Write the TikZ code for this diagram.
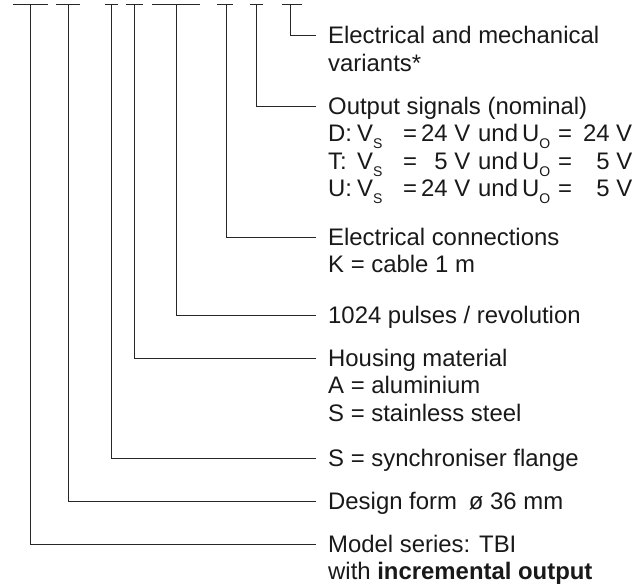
\documentclass[tikz,border=0pt]{standalone}
\usepackage{fontspec}
\setmainfont{Liberation Sans}
\newcommand\mysub[1]{\raisebox{-7pt}{\fontsize{14}{14}\selectfont #1}}
\newcommand\sigline[3]{\makebox[29pt][l]{#1}\makebox[46pt][l]{V\mysub{S}}\makebox[67pt]{=\hfill #2 V}\hspace{8pt}\makebox[44pt][l]{und}\makebox[36pt][l]{U\mysub{O}}\makebox[74pt]{=\hfill #3 V}}
\begin{document}
\begin{tikzpicture}[x=1pt,y=-1pt,
  ln/.style={draw=black!85,line width=0.9pt},
  lbl/.style={anchor=base west,inner sep=0pt,text=black!90,
    font=\fontsize{23.9}{27.5}\selectfont}]
\useasboundingbox (0,0) rectangle (637,585);
% top bars
\foreach \i/\l/\c/\r in {1/13/30.7/48, 2/56/68.7/80, 3/105/111.7/118, 4/126/134.3/143,
  5/152/176/200, 6/217/226/233, 7/250/256.7/263, 8/282/290/302}{
  \coordinate (bl\i) at (\l,4.7);
  \coordinate (br\i) at (\r,4.7);
  \coordinate (t\i) at (\c,4.7);
}
\foreach \i/\y in {1/544, 2/501, 3/458, 4/358, 5/315, 6/237, 7/106, 8/35.5}{
  \coordinate (e\i) at (316,\y);
}
% labels
\node[lbl] (n8) at (328,43.9) {\begin{tabular}[t]{@{}l@{}}Electrical and mechanical\\variants*\end{tabular}};
\node[lbl] (n7) at (328,114.4) {\begin{tabular}[t]{@{}l@{}}Output signals (nominal)\\
 \sigline{D:}{24}{24}\\
 \sigline{T:}{5}{5}\\
 \sigline{U:}{24}{5}
 \end{tabular}};
\node[lbl] (n6) at (328,245.4) {\begin{tabular}[t]{@{}l@{}}Electrical connections\\K = cable 1 m\end{tabular}};
\node[lbl] (n5) at (328,323.4) {1024 pulses / revolution};
\node[lbl] (n4) at (328,366.4) {\begin{tabular}[t]{@{}l@{}}Housing material\\A = aluminium\\S = stainless steel\end{tabular}};
\node[lbl] (n3) at (328,466.4) {S = synchroniser flange};
\node[lbl] (n2) at (328,509.4) {Design form\hspace{0.5em}ø 36 mm};
\node[lbl] (n1) at (328,552.4) {\begin{tabular}[t]{@{}l@{}}Model series: TBI\\with \textbf{incremental output}\end{tabular}};
% connectors
\foreach \i in {1,...,8}{
  \draw[ln] (bl\i) -- (br\i);
  \draw[ln] (t\i) |- (e\i);
}
\end{tikzpicture}
\end{document}
